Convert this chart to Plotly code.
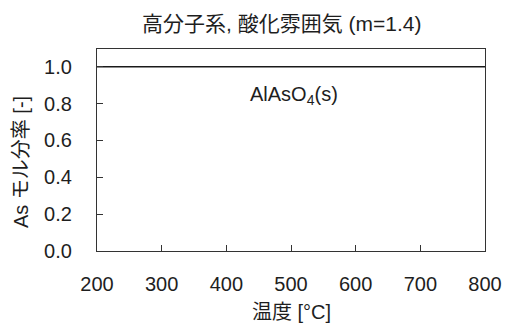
import plotly.graph_objects as go

temps = [200, 300, 400, 500, 600, 700, 800]
as_frac = [1.0, 1.0, 1.0, 1.0, 1.0, 1.0, 1.0]
x_ticks = [200, 300, 400, 500, 600, 700, 800]
y_ticks = [0.0, 0.2, 0.4, 0.6, 0.8, 1.0]
species_label = "AlAsO<sub>4</sub>(s)"
label_x, label_y = 505, 0.846

title_text = "高分子系, 酸化雰囲気 (m=1.4)"
x_title = "温度 [°C]"
y_title = "As モル分率 [-]"

font_family = "Liberation Sans, Arial, Noto Sans CJK JP"
txt = "#1e1e1e"

fig = go.Figure()
fig.add_trace(go.Scatter(x=temps, y=as_frac, mode="lines",
                         line=dict(color="#1a1a1a", width=1.6), showlegend=False))
fig.add_annotation(x=label_x, y=label_y, text=species_label, showarrow=False,
                   font=dict(size=20, color=txt, family=font_family))

# axis titles as positioned annotations
fig.add_annotation(xref="paper", yref="paper", x=0, y=0.44, xshift=-76,
                   text=y_title, textangle=-90, showarrow=False,
                   xanchor="center", yanchor="middle",
                   font=dict(size=20, color=txt, family=font_family))
fig.add_annotation(xref="paper", yref="paper", x=0.501, y=0, yshift=-61,
                   text=x_title, showarrow=False, xanchor="center", yanchor="middle",
                   font=dict(size=20, color=txt, family=font_family))

axis_common = dict(showgrid=False, zeroline=False, showline=True, mirror=True,
                   linecolor="#333", linewidth=1.3, ticks="inside", ticklen=6,
                   tickcolor="#333", tickfont=dict(size=20, color=txt, family=font_family))
fig.update_xaxes(range=[200, 800], tickvals=x_ticks, ticktext=[str(v) for v in x_ticks],
                 ticklabelstandoff=15, **axis_common)
fig.update_yaxes(range=[0, 1.096], tickvals=y_ticks, ticktext=[f"{v:.1f}" for v in y_ticks],
                 ticklabelstandoff=20, **axis_common)
fig.update_layout(
    width=506, height=316,
    margin=dict(l=89, r=26, t=41, b=73),
    paper_bgcolor="white", plot_bgcolor="white",
    title=dict(text=title_text, x=0.541, xanchor="center", y=0.952, yanchor="middle",
               font=dict(size=21, color=txt, family=font_family)),
)
fig.write_html("out.html")
